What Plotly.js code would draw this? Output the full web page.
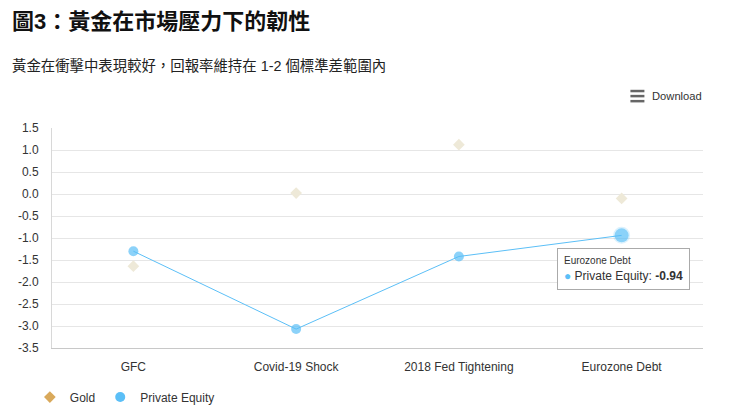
<!DOCTYPE html>
<html>
<head>
<meta charset="utf-8">
<script src="https://cdn.plot.ly/plotly-3.0.1.min.js"></script>
<style>
  html, body { margin: 0; padding: 0; background: #fff; }
  #chart { width: 740px; height: 417px; }
</style>
</head>
<body>
<div id="chart"></div>
<script>
// chart values
var categories = ['GFC', 'Covid-19 Shock', '2018 Fed Tightening', 'Eurozone Debt'];
var goldValues = [-1.64, 0.02, 1.12, -0.1];
var privateEquityValues = [-1.3, -3.07, -1.42, -0.94];
var yTicks = [1.5, 1.0, 0.5, 0.0, -0.5, -1.0, -1.5, -2.0, -2.5, -3.0, -3.5];
var yTickLabels = ['1.5', '1.0', '0.5', '0.0', '-0.5', '-1.0', '-1.5', '-2.0', '-2.5', '-3.0', '-3.5'];

var titleText = '圖3：黃金在市場壓力下的韌性';
var subtitleText = '黃金在衝擊中表現較好，回報率維持在 1-2 個標準差範圍內';
var hoverIndex = 3; // tooltip is shown on the last Private Equity point

var goldColor = '#d9a95b';
var goldFaded = '#eee9d8'; // gold points are dimmed while Private Equity is hovered
var peColor = '#5bbff7';
var font = 'Liberation Sans, Arial, Noto Sans CJK TC, sans-serif';

// hovered point is drawn a bit larger with a soft halo
var peSizes = privateEquityValues.map(function(v, i) { return i === hoverIndex ? 14 : 10; });
var peLineWidths = privateEquityValues.map(function(v, i) { return i === hoverIndex ? 3 : 0; });

var plotlyData = [
    {
        x: categories,
        y: goldValues,
        type: 'scatter',
        mode: 'markers',
        name: 'Gold',
        legendgroup: 'gold',
        showlegend: false,
        marker: { symbol: 'diamond', size: 9, color: goldFaded },
        hoverinfo: 'skip'
    },
    {
        x: categories,
        y: privateEquityValues,
        type: 'scatter',
        mode: 'lines+markers',
        name: 'Private Equity',
        legendgroup: 'pe',
        showlegend: false,
        line: { color: peColor, width: 1 },
        marker: {
            symbol: 'circle',
            size: peSizes,
            color: peColor,
            line: { color: 'rgba(91,191,247,0.3)', width: peLineWidths }
        }
    },
    // legend entries: symbol only, at full colour like the reference
    {
        x: [null],
        y: [null],
        type: 'scatter',
        mode: 'markers',
        name: 'Gold',
        legendgroup: 'gold',
        marker: { symbol: 'diamond', size: 9, color: goldColor }
    },
    {
        x: [null],
        y: [null],
        type: 'scatter',
        mode: 'markers',
        name: 'Private Equity',
        legendgroup: 'pe',
        marker: { symbol: 'circle', size: 10, color: peColor }
    }
];

var plotlyLayout = {
    width: 740,
    height: 417,
    margin: { l: 52, r: 37, t: 128, b: 69, autoexpand: false },
    paper_bgcolor: '#ffffff',
    plot_bgcolor: '#ffffff',
    font: { family: font, size: 12, color: '#333333' },
    showlegend: true,
    legend: {
        orientation: 'h',
        x: -0.034,
        xanchor: 'left',
        y: -0.223,
        yanchor: 'middle',
        font: { size: 12, color: '#333333' },
        itemwidth: 30,
        tracegroupgap: 0
    },
    xaxis: {
        type: 'category',
        categoryorder: 'array',
        categoryarray: categories,
        range: [-0.5, 3.5],
        automargin: false,
        showgrid: false,
        zeroline: false,
        showline: true,
        linecolor: '#c8c8c8',
        linewidth: 1,
        ticks: '',
        tickfont: { size: 12, color: '#333333' },
        ticklabelstandoff: 8
    },
    yaxis: {
        range: [-3.5, 1.5],
        tickmode: 'array',
        tickvals: yTicks,
        ticktext: yTickLabels,
        automargin: false,
        showgrid: true,
        gridcolor: '#e6e6e6',
        gridwidth: 1,
        zeroline: false,
        showline: true,
        linecolor: '#d8d8d8',
        linewidth: 1,
        ticks: '',
        tickfont: { size: 12, color: '#333333' },
        ticklabelstandoff: 10
    },
    shapes: [
        // hamburger icon of the Download button
        { type: 'line', xref: 'paper', yref: 'paper', x0: 0.8885, x1: 0.910, y0: 1.168, y1: 1.168, line: { color: '#666666', width: 2.5 } },
        { type: 'line', xref: 'paper', yref: 'paper', x0: 0.8885, x1: 0.910, y0: 1.145, y1: 1.145, line: { color: '#666666', width: 2.5 } },
        { type: 'line', xref: 'paper', yref: 'paper', x0: 0.8885, x1: 0.910, y0: 1.122, y1: 1.122, line: { color: '#666666', width: 2.5 } }
    ],
    annotations: [
        {
            text: '<b>' + titleText + '</b>',
            xref: 'paper', yref: 'paper',
            x: -0.0645, y: 1.482,
            xanchor: 'left', yanchor: 'middle',
            showarrow: false,
            font: { family: font, size: 22, color: '#111111' }
        },
        {
            text: subtitleText,
            xref: 'paper', yref: 'paper',
            x: -0.0645, y: 1.286,
            xanchor: 'left', yanchor: 'middle',
            showarrow: false,
            font: { family: font, size: 14.4, color: '#222222' }
        },
        {
            text: 'Download',
            xref: 'paper', yref: 'paper',
            x: 0.919, y: 1.145,
            xanchor: 'left', yanchor: 'middle',
            showarrow: false,
            font: { family: font, size: 11.2, color: '#333333' }
        },
        {
            // tooltip for the hovered Private Equity point
            text: '<span style="font-size:10px">' + categories[hoverIndex] + '</span><br>' +
                  '<span style="color:' + peColor + '">●</span> Private Equity: <b>' +
                  privateEquityValues[hoverIndex].toFixed(2) + '</b>',
            xref: 'x', yref: 'y',
            x: categories[hoverIndex], y: privateEquityValues[hoverIndex],
            xanchor: 'center', yanchor: 'top',
            xshift: 2, yshift: -13,
            showarrow: false,
            align: 'left',
            bgcolor: '#ffffff',
            bordercolor: '#aaaaaa',
            borderwidth: 1,
            borderpad: 6,
            font: { family: font, size: 12, color: '#333333' }
        }
    ]
};

var plotlyConfig = {
    displayModeBar: false,
    staticPlot: true
};

Plotly.newPlot('chart', plotlyData, plotlyLayout, plotlyConfig);
</script>
</body>
</html>
